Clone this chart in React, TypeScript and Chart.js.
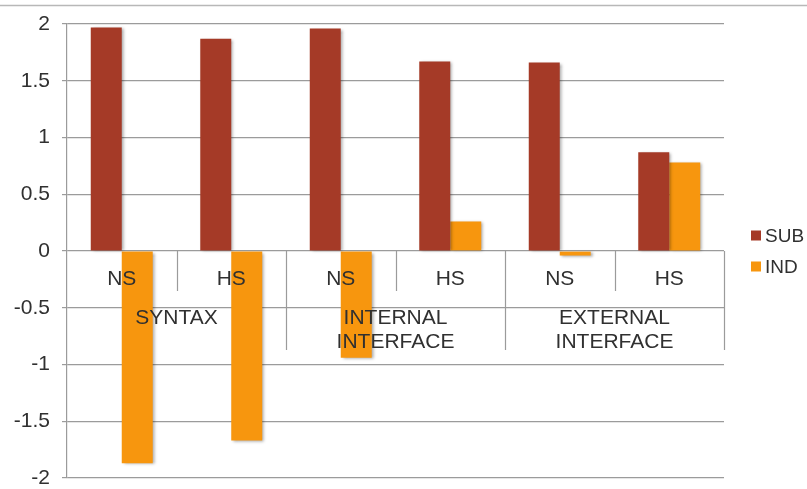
import { useEffect, useRef } from "react";
import { Chart, registerables } from "chart.js";

Chart.register(...registerables);

const categories = ["NS", "HS", "NS", "HS", "NS", "HS"];
const groupLabels: string[][] = [["SYNTAX"], ["INTERNAL", "INTERFACE"], ["EXTERNAL", "INTERFACE"]];
const subValues = [1.97, 1.87, 1.96, 1.67, 1.66, 0.87];
const indValues = [-1.87, -1.67, -0.94, 0.26, -0.04, 0.78];
const seriesNames = ["SUB", "IND"];
const seriesColors = ["#A53A27", "#F7960E"];
const yMin = -2;
const yMax = 2;
const yStep = 0.5;

const FONT = "'Liberation Sans', Arial, Helvetica, sans-serif";
const GRID = "#9b9b9b";
const TEXT = "#303030";

const tablePlugin = {
  id: "tablePlugin",
  beforeDraw(chart: any) {
    const ctx = chart.ctx;
    ctx.save();
    ctx.strokeStyle = "#b8b8b8";
    ctx.lineWidth = 1.5;
    ctx.beginPath();
    ctx.moveTo(0, 5.5);
    ctx.lineTo(chart.width, 5.5);
    ctx.stroke();
    ctx.restore();
  },
  beforeDatasetsDraw(chart: any) {
    const ctx = chart.ctx;
    const xs = chart.scales.x;
    const ys = chart.scales.y;
    const y0 = ys.getPixelForValue(0);
    const ca = chart.chartArea;
    ctx.save();
    ctx.strokeStyle = GRID;
    ctx.lineWidth = 1.2;
    for (let i = 0; i < categories.length; i++) {
      const bx =
        i < categories.length - 1
          ? (xs.getPixelForValue(i) + xs.getPixelForValue(i + 1)) / 2
          : ca.right;
      const long = i % 2 === 1;
      ctx.beginPath();
      ctx.moveTo(Math.round(bx) + 0.5, y0);
      ctx.lineTo(Math.round(bx) + 0.5, y0 + (long ? 99 : 40));
      ctx.stroke();
    }
    ctx.restore();
    // shadow for bars
    ctx.save();
    ctx.shadowColor = "rgba(0,0,0,0.35)";
    ctx.shadowBlur = 3;
    ctx.shadowOffsetX = 2;
    ctx.shadowOffsetY = 1;
  },
  afterDatasetsDraw(chart: any) {
    const ctx = chart.ctx;
    ctx.restore();
    const xs = chart.scales.x;
    const ys = chart.scales.y;
    const y0 = ys.getPixelForValue(0);
    const ca = chart.chartArea;
    ctx.save();
    ctx.fillStyle = TEXT;
    ctx.font = `21px ${FONT}`;
    ctx.textAlign = "center";
    ctx.textBaseline = "middle";
    categories.forEach((c, i) => {
      ctx.fillText(c, xs.getPixelForValue(i), y0 + 28);
    });
    groupLabels.forEach((lines, g) => {
      const cx = (xs.getPixelForValue(2 * g) + xs.getPixelForValue(2 * g + 1)) / 2;
      lines.forEach((t, k) => {
        ctx.fillText(t, cx, y0 + 67 + k * 24);
      });
    });
    // legend
    const mid = (ca.top + ca.bottom) / 2;
    ctx.font = `19px ${FONT}`;
    ctx.textAlign = "left";
    seriesNames.forEach((n, i) => {
      const cy = mid - 15.5 + i * 31;
      ctx.fillStyle = seriesColors[i];
      ctx.fillRect(ca.right + 27, cy - 5, 10, 10);
      ctx.fillStyle = TEXT;
      ctx.fillText(n, ca.right + 41, cy + 1);
    });
    ctx.restore();
  },
};

export default function App() {
  const ref = useRef<HTMLCanvasElement | null>(null);
  useEffect(() => {
    if (!ref.current) return;
    const chart = new Chart(ref.current, {
      type: "bar",
      data: {
        labels: categories,
        datasets: [
          { label: seriesNames[0], data: subValues, backgroundColor: seriesColors[0], borderWidth: 0 },
          { label: seriesNames[1], data: indValues, backgroundColor: seriesColors[1], borderWidth: 0 },
        ],
      },
      options: {
        responsive: false,
        animation: false,
        layout: { padding: { left: 0, right: 83, top: 24, bottom: 11 } },
        datasets: { bar: { categoryPercentage: 0.566, barPercentage: 1 } },
        plugins: { legend: { display: false }, tooltip: { enabled: false } },
        scales: {
          x: { display: false, offset: true },
          y: {
            min: yMin,
            max: yMax,
            afterFit: (s: any) => {
              s.width = 67;
              s.paddingTop = 0;
              s.paddingBottom = 0;
            },
            ticks: {
              stepSize: yStep,
              color: TEXT,
              font: { size: 21, family: FONT },
              padding: 12,
              callback: (v: any) => String(Number(v)),
            },
            grid: { color: GRID, lineWidth: 1.2, tickLength: 5, drawTicks: true },
            border: { display: true, color: GRID, width: 1.2 },
          },
        },
      },
      plugins: [tablePlugin],
    });
    return () => chart.destroy();
  }, []);
  return (
    <div style={{ position: "absolute", left: 0, top: 0, width: 807, height: 489, background: "#fff" }}>
      <canvas ref={ref} width={807} height={489} />
    </div>
  );
}
